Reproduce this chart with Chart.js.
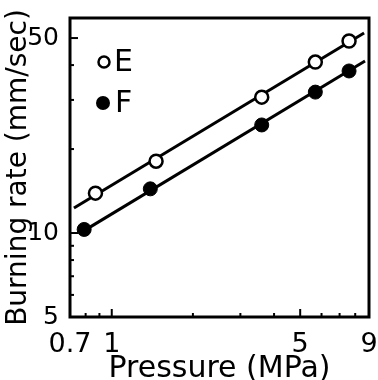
<!DOCTYPE html>
<html>
<head>
<meta charset="utf-8">
<script src="https://cdn.jsdelivr.net/npm/chart.js@4.4.1/dist/chart.umd.min.js"></script>
<style>
  html, body { margin: 0; padding: 0; background: #fff; }
  #wrap { width: 378px; height: 380px; }
</style>
</head>
<body>
<div id="wrap"><canvas id="myChart"></canvas></div>
<script>
// measured points, sample E (open) and F (filled)
var pressureE = [0.87, 1.46, 3.6, 5.69, 7.59];
var rateE = [13.9, 18.1, 30.7, 41.0, 48.8];
var pressureF = [0.79, 1.39, 3.6, 5.69, 7.59];
var rateF = [10.3, 14.4, 24.4, 32.0, 38.1];

// fitted lines (end points)
var fitPressureE = [0.724, 8.63];
var fitRateE = [12.3, 52.1];
var fitPressureF = [0.79, 8.7];
var fitRateF = [10.2, 41.4];

// axis ticks
var xTicks = [0.7, 0.8, 0.9, 1, 2, 3, 4, 5, 6, 7, 8, 9];
var xLabels = [0.7, 1, 5, 9];
var yTicks = [5, 6, 7, 8, 9, 10, 20, 30, 40, 50];
var yLabels = [5, 10, 50];

var FONT = "'DejaVu Sans', sans-serif";

function toPoints(xs, ys) {
    return xs.map(function (x, i) { return { x: x, y: ys[i] }; });
}

// box frame + small inward tick marks
var frame = {
    id: 'frame',
    afterDraw: function (chart) {
        var ctx = chart.ctx, a = chart.chartArea;
        ctx.save();
        ctx.strokeStyle = '#000';
        ctx.lineWidth = 2;
        chart.scales.x.ticks.forEach(function (t) {
            var px = chart.scales.x.getPixelForValue(t.value);
            var len = xLabels.indexOf(t.value) >= 0 ? 8 : 4;
            ctx.beginPath();
            ctx.moveTo(px, a.bottom);
            ctx.lineTo(px, a.bottom - len);
            ctx.stroke();
        });
        chart.scales.y.ticks.forEach(function (t) {
            var py = chart.scales.y.getPixelForValue(t.value);
            var len = yLabels.indexOf(t.value) >= 0 ? 8 : 4;
            ctx.beginPath();
            ctx.moveTo(a.left, py);
            ctx.lineTo(a.left + len, py);
            ctx.stroke();
        });
        ctx.lineWidth = 3;
        ctx.strokeRect(a.left, a.top, a.right - a.left, a.bottom - a.top);
        ctx.restore();
    }
};

// legend in the upper left of the plot
var keyBox = {
    id: 'keyBox',
    afterDraw: function (chart) {
        var ctx = chart.ctx, a = chart.chartArea;
        ctx.save();
        ctx.font = '30px ' + FONT;
        ctx.textBaseline = 'middle';
        ctx.strokeStyle = '#000';
        ctx.lineWidth = 2.5;
        ctx.beginPath();
        ctx.arc(a.left + 34, a.top + 44, 5.5, 0, Math.PI * 2);
        ctx.fillStyle = '#fff';
        ctx.fill();
        ctx.stroke();
        ctx.fillStyle = '#000';
        ctx.fillText('E', a.left + 44, a.top + 45);
        ctx.beginPath();
        ctx.arc(a.left + 33, a.top + 85, 7, 0, Math.PI * 2);
        ctx.fill();
        ctx.fillText('F', a.left + 45, a.top + 86);
        ctx.restore();
    }
};

var ctx = document.getElementById('myChart').getContext('2d');
var chart = new Chart(ctx, {
    type: 'scatter',
    data: {
        datasets: [{
            label: 'E fit',
            data: toPoints(fitPressureE, fitRateE),
            showLine: true,
            pointRadius: 0,
            borderColor: '#000',
            borderWidth: 3,
            order: 2
        }, {
            label: 'F fit',
            data: toPoints(fitPressureF, fitRateF),
            showLine: true,
            pointRadius: 0,
            borderColor: '#000',
            borderWidth: 3,
            order: 2
        }, {
            label: 'E',
            data: toPoints(pressureE, rateE),
            pointRadius: 6.5,
            pointBackgroundColor: '#fff',
            pointBorderColor: '#000',
            pointBorderWidth: 2.5,
            order: 1
        }, {
            label: 'F',
            data: toPoints(pressureF, rateF),
            pointRadius: 7,
            pointBackgroundColor: '#000',
            pointBorderColor: '#000',
            pointBorderWidth: 1,
            order: 1
        }]
    },
    options: {
        responsive: true,
        maintainAspectRatio: false,
        animation: false,
        layout: { padding: { top: 18, right: 7, left: 0, bottom: 0 } },
        plugins: {
            legend: { display: false },
            tooltip: { enabled: false }
        },
        scales: {
            x: {
                type: 'logarithmic',
                min: 0.7,
                max: 9,
                afterBuildTicks: function (s) {
                    s.ticks = xTicks.map(function (v) { return { value: v }; });
                },
                afterFit: function (s) {
                    s.height = 63;
                    s.paddingLeft = 0;
                    s.paddingRight = 0;
                },
                grid: { display: false },
                border: { display: false },
                ticks: {
                    autoSkip: false,
                    maxRotation: 0,
                    padding: 4,
                    color: '#000',
                    font: { family: FONT, size: 27 },
                    callback: function (v) {
                        return xLabels.indexOf(v) >= 0 ? String(v) : '';
                    }
                },
                title: {
                    display: true,
                    text: 'Pressure (MPa)',
                    color: '#000',
                    font: { family: FONT, size: 30 },
                    padding: { top: 0, bottom: -7 }
                }
            },
            y: {
                type: 'logarithmic',
                min: 5,
                max: 59,
                afterBuildTicks: function (s) {
                    s.ticks = yTicks.map(function (v) { return { value: v }; });
                },
                afterFit: function (s) {
                    s.width = 70;
                    s.paddingTop = 0;
                    s.paddingBottom = 0;
                },
                grid: { display: false },
                border: { display: false },
                ticks: {
                    autoSkip: false,
                    padding: 3,
                    color: '#000',
                    font: { family: FONT, size: 25 },
                    callback: function (v) {
                        return yLabels.indexOf(v) >= 0 ? String(v) : '';
                    }
                },
                title: {
                    display: true,
                    text: 'Burning rate (mm/sec)',
                    color: '#000',
                    font: { family: FONT, size: 28 },
                    padding: { top: 2, bottom: 0 }
                }
            }
        }
    },
    plugins: [frame, keyBox]
});
</script>
</body>
</html>
